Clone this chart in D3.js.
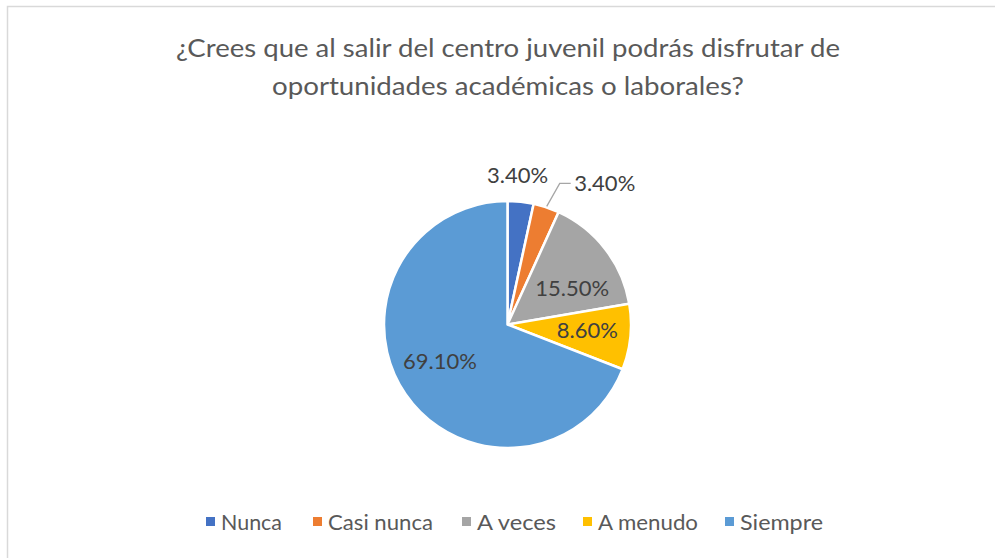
<!DOCTYPE html>
<html>
<head>
<meta charset="utf-8">
<script src="https://cdn.jsdelivr.net/npm/d3@7"></script>
<style>
  html, body { margin: 0; padding: 0; background: #fff; }
  svg { display: block; }
</style>
</head>
<body>
<svg id="chart" width="995" height="558"></svg>
<script>
// Survey answers and their shares (percent)
const categories = ["Nunca", "Casi nunca", "A veces", "A menudo", "Siempre"];
const values = [3.4, 3.4, 15.5, 8.6, 69.1];
const colors = ["#4472C4", "#ED7D31", "#A5A5A5", "#FFC000", "#5B9BD5"];
const titleLines = [
  "¿Crees que al salir del centro juvenil podrás disfrutar de",
  "oportunidades académicas o laborales?"
];

const W = 995, H = 558;
const FONT = "Lato, 'Open Sans', sans-serif";
const svg = d3.select("#chart");

// Chart area frame
svg.append("rect")
  .attr("x", 7.5).attr("y", 6.5)
  .attr("width", W).attr("height", H)
  .attr("fill", "#fff")
  .attr("stroke", "#d9d9d9").attr("stroke-width", 1.5);

// Fit a text element horizontally into a given width
function fitWidth(sel, width) {
  sel.attr("textLength", width).attr("lengthAdjust", "spacingAndGlyphs");
}

// Title
const title = svg.append("g")
  .attr("font-family", FONT)
  .attr("font-size", 25)
  .attr("fill", "#595959")
  .attr("text-anchor", "middle");
const titleWidths = [664, 472];
titleLines.forEach((t, i) => {
  const el = title.append("text")
    .attr("x", 508).attr("y", 57 + i * 38)
    .text(t);
  fitWidth(el, titleWidths[i]);
});

// Pie
const cx = 507.5, cy = 324.5, R = 123.5;
const data = categories.map((c, i) => ({ name: c, value: values[i], color: colors[i] }));
const pie = d3.pie().value(d => d.value).sort(null);
const arcs = pie(data);
const arc = d3.arc().innerRadius(0).outerRadius(R);

const g = svg.append("g").attr("transform", `translate(${cx},${cy})`);
g.selectAll("path.slice")
  .data(arcs)
  .join("path")
  .attr("class", "slice")
  .attr("d", arc)
  .attr("fill", d => d.data.color)
  .attr("stroke", "#fff")
  .attr("stroke-width", 2.5)
  .attr("stroke-linejoin", "round");

// Label placement: radius and angular nudge (radians) relative to slice middle
const labelPlace = [
  { r: 150, da: -0.04 },
  { r: 153, da: 0.0, leader: true },
  { r: 74, da: 0.15 },
  { r: 80, da: -0.03 },
  { r: 77, da: 0.1 }
];

const fmt = v => v.toFixed(2) + "%";

arcs.forEach((a, i) => {
  const p = labelPlace[i];
  const mid = (a.startAngle + a.endAngle) / 2;
  const ang = mid + p.da;
  let lx = Math.sin(ang) * p.r;
  let ly = -Math.cos(ang) * p.r;
  if (p.leader) {
    // leader line from slice edge to the label
    const ex = Math.sin(mid) * (R + 1), ey = -Math.cos(mid) * (R + 1);
    const kx = ex + 13, ky = ey - 23;
    g.append("polyline")
      .attr("points", [[ex, ey], [kx, ky], [kx + 11, ky]].map(q => q.join(",")).join(" "))
      .attr("fill", "none")
      .attr("stroke", "#a6a6a6")
      .attr("stroke-width", 1.3);
    lx = kx + 13 + 32;
    ly = ky;
  }
  g.append("text")
    .attr("x", lx).attr("y", ly)
    .attr("dy", "0.35em")
    .attr("text-anchor", "middle")
    .attr("font-family", FONT)
    .attr("font-size", 22)
    .attr("fill", "#404040")
    .text(fmt(a.data.value));
});

// Legend
const legendX = [206, 313, 462, 583, 725];
const legendW = [61, 105, 79, 100, 83];
const legend = svg.append("g").attr("font-family", FONT).attr("font-size", 21.5).attr("fill", "#595959");
data.forEach((d, i) => {
  legend.append("rect")
    .attr("x", legendX[i]).attr("y", 517)
    .attr("width", 9).attr("height", 9)
    .attr("fill", d.color);
  const t = legend.append("text")
    .attr("x", legendX[i] + 15).attr("y", 522)
    .attr("dy", "0.35em")
    .text(d.name);
  fitWidth(t, legendW[i]);
});
</script>
</body>
</html>
